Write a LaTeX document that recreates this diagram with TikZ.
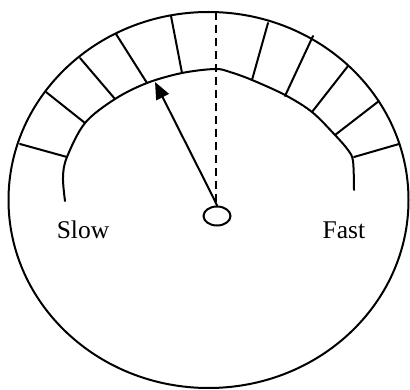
\documentclass[tikz,border=0pt]{standalone}
\usepackage{fontspec}
\setmainfont{Liberation Serif}
\usetikzlibrary{shapes.geometric,arrows.meta}
\begin{document}
\begin{tikzpicture}[x=1pt,y=-1pt,
  ln/.style={line width=2pt,line cap=round,line join=round},
  lbl/.style={font=\fontsize{25.5}{30}\selectfont,inner sep=0pt},
  pivotshape/.style={draw,ellipse,line width=2pt,minimum width=27pt,minimum height=19pt,inner sep=0pt}]
\useasboundingbox (0,0) rectangle (410,390);
% outer rim
\draw[ln] (208.5,200) ellipse [x radius=200,y radius=188];
% inner arc
\draw[ln] plot[smooth,tension=0.55] coordinates {(65,201) (63,177) (67,157) (85,123) (115,99) (147,83) (182,73) (215,69) (230,72) (252,80) (285,95) (312,112) (335,135) (348,150) (353,161) (354,190)};
% ticks
\draw[ln] (20,144) -- (67,157);
\draw[ln] (46,92) -- (85,123);
\draw[ln] (80,58) -- (115,99);
\draw[ln] (116,34) -- (147,83);
\draw[ln] (171,16) -- (182,73);
\draw[ln] (268,23) -- (252,80);
\draw[ln] (313,36) -- (285,96);
\draw[ln] (348,66) -- (312,112);
\draw[ln] (379,101) -- (335,135);
\draw[ln] (399,144) -- (354,157);
% pivot and needle
\node[pivotshape] (pivot) at (217,216) {};
\coordinate (top) at (216,12);
\coordinate (tip) at (155,82);
\coordinate (kink) at (213.5,198);
\draw[line width=2pt,dash pattern=on 8pt off 5pt] (top) -- (216,206);
\draw[ln,-{Triangle[length=17pt,width=14pt]}] (pivot.north) -- (kink) -- (tip);
% labels
\node[lbl] (slow) at (83,230) {Slow};
\node[lbl] (fast) at (344,230) {Fast};
\end{tikzpicture}
\end{document}
